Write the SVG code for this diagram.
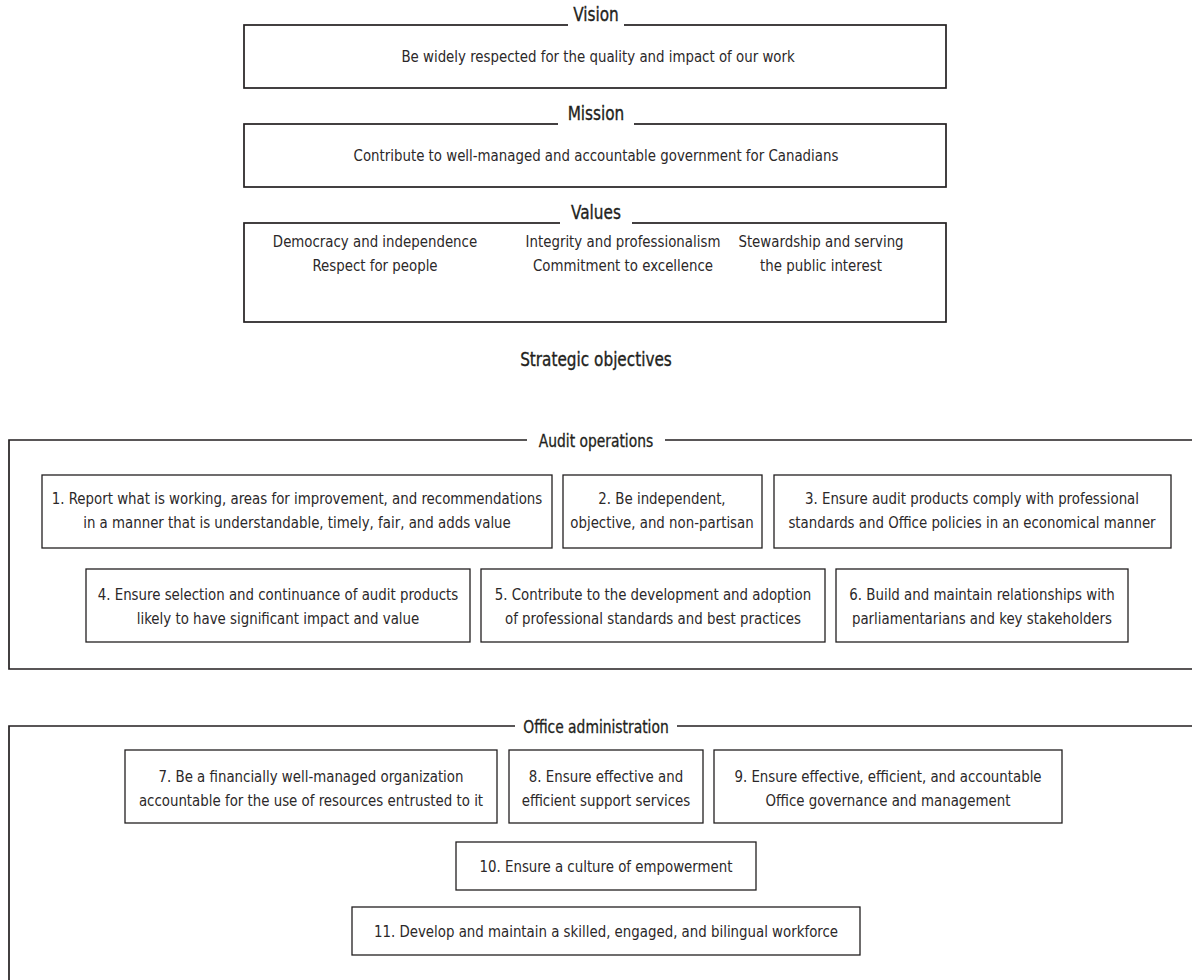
<svg xmlns="http://www.w3.org/2000/svg" width="1192" height="980" viewBox="0 0 1192 980">
<style>
.bg{fill:#ffffff}
.frame{fill:none;stroke:#231f20;stroke-width:1.7}
.box{fill:#ffffff;stroke:#231f20;stroke-width:1.3}
.gap{fill:#ffffff;stroke:none}
text{font-family:'Liberation Sans Narrow','DejaVu Sans Condensed','DejaVu Sans',sans-serif;fill:#231f20;text-anchor:middle;transform-box:fill-box;transform-origin:center;transform:scaleX(0.9)}
.h{font-size:20px;transform:scaleX(0.85);stroke:#231f20;stroke-width:0.35}
.s{font-size:17.5px;transform:scaleX(0.88);stroke:#231f20;stroke-width:0.3}
.t{font-size:16.5px;fill:#2b2829}
</style>
<rect class="bg" x="0" y="0" width="1192" height="980"/>

<g id="vision">
<rect class="frame" x="244" y="25" width="702" height="63"/>
<rect class="gap" x="568" y="14" width="56" height="20"/>
<text class="h" x="596" y="21">Vision</text>
<text class="t" x="598" y="62">Be widely respected for the quality and impact of our work</text>
</g>

<g id="mission">
<rect class="frame" x="244" y="124" width="702" height="63"/>
<rect class="gap" x="558" y="113" width="76" height="20"/>
<text class="h" x="596" y="120">Mission</text>
<text class="t" x="596" y="161">Contribute to well-managed and accountable government for Canadians</text>
</g>

<g id="values">
<rect class="frame" x="244" y="223" width="702" height="99"/>
<rect class="gap" x="560" y="212" width="72" height="20"/>
<text class="h" x="596" y="219">Values</text>
<text class="t" x="375" y="247">Democracy and independence</text>
<text class="t" x="375" y="271">Respect for people</text>
<text class="t" x="623" y="247">Integrity and professionalism</text>
<text class="t" x="623" y="271">Commitment to excellence</text>
<text class="t" x="821" y="247">Stewardship and serving</text>
<text class="t" x="821" y="271">the public interest</text>
</g>

<g id="strategic-objectives">
<text class="h" x="596" y="366">Strategic objectives</text>
</g>

<g id="audit-operations">
<path class="frame" d="M1200,440 H9 V669 H1200"/>
<rect class="gap" x="527" y="430" width="138" height="20"/>
<text class="s" x="596" y="447">Audit operations</text>
</g>

<g id="obj1">
<rect class="box" x="42" y="475" width="510" height="73"/>
<text class="t" x="297" y="504">1. Report what is working, areas for improvement, and recommendations</text>
<text class="t" x="297" y="528">in a manner that is understandable, timely, fair, and adds value</text>
</g>
<g id="obj2">
<rect class="box" x="563" y="475" width="199" height="73"/>
<text class="t" x="662" y="504">2. Be independent,</text>
<text class="t" x="662" y="528">objective, and non-partisan</text>
</g>
<g id="obj3">
<rect class="box" x="774" y="475" width="397" height="73"/>
<text class="t" x="972" y="504">3. Ensure audit products comply with professional</text>
<text class="t" x="972" y="528">standards and Office policies in an economical manner</text>
</g>
<g id="obj4">
<rect class="box" x="86" y="569" width="384" height="73"/>
<text class="t" x="278" y="600">4. Ensure selection and continuance of audit products</text>
<text class="t" x="278" y="624">likely to have significant impact and value</text>
</g>
<g id="obj5">
<rect class="box" x="481" y="569" width="344" height="73"/>
<text class="t" x="653" y="600">5. Contribute to the development and adoption</text>
<text class="t" x="653" y="624">of professional standards and best practices</text>
</g>
<g id="obj6">
<rect class="box" x="836" y="569" width="292" height="73"/>
<text class="t" x="982" y="600">6. Build and maintain relationships with</text>
<text class="t" x="982" y="624">parliamentarians and key stakeholders</text>
</g>

<g id="office-administration">
<path class="frame" d="M1200,726 H9 V990"/>
<rect class="gap" x="515" y="716" width="162" height="20"/>
<text class="s" x="596" y="733">Office administration</text>
</g>

<g id="obj7">
<rect class="box" x="125" y="750" width="372" height="73"/>
<text class="t" x="311" y="782">7. Be a financially well-managed organization</text>
<text class="t" x="311" y="806">accountable for the use of resources entrusted to it</text>
</g>
<g id="obj8">
<rect class="box" x="509" y="750" width="194" height="73"/>
<text class="t" x="606" y="782">8. Ensure effective and</text>
<text class="t" x="606" y="806">efficient support services</text>
</g>
<g id="obj9">
<rect class="box" x="714" y="750" width="348" height="73"/>
<text class="t" x="888" y="782">9. Ensure effective, efficient, and accountable</text>
<text class="t" x="888" y="806">Office governance and management</text>
</g>
<g id="obj10">
<rect class="box" x="456" y="842" width="300" height="48"/>
<text class="t" x="606" y="872">10. Ensure a culture of empowerment</text>
</g>
<g id="obj11">
<rect class="box" x="352" y="907" width="508" height="48"/>
<text class="t" x="606" y="937">11. Develop and maintain a skilled, engaged, and bilingual workforce</text>
</g>

<g id="connectors"></g>
</svg>
